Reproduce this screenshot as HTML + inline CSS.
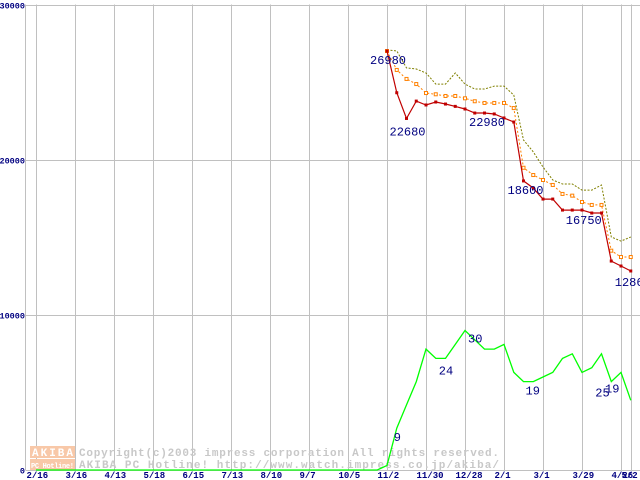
<!DOCTYPE html>
<html><head><meta charset="utf-8"><style>
body{margin:0;background:#fff}
svg{display:block}
text{font-family:"Liberation Mono","DejaVu Sans Mono",monospace}
</style></head><body>
<svg id="chart" width="640" height="480" viewBox="0 0 640 480" xmlns="http://www.w3.org/2000/svg">
<g id="grid"></g>
<g id="wm">
<rect x="30" y="446" width="45" height="12" fill="#f8c8a8"/>
<text x="32" y="456" font-size="11" font-weight="bold" fill="#fff" textLength="41">AKIBA</text>
<rect x="30" y="459" width="45" height="11" fill="#f8c8a8"/>
<text x="31" y="468" font-size="7" font-weight="bold" fill="#fff" textLength="43">PC Hotline!</text>
<text x="79" y="456" font-size="11" fill="#c8c8c8" font-weight="bold" textLength="420">Copyright(c)2003 impress corporation All rights reserved.</text>
<text x="79" y="468" font-size="11" fill="#c8c8c8" font-weight="bold" textLength="420">AKIBA PC Hotline!  http://www.watch.impress.co.jp/akiba/</text>
</g>
<g id="series"></g>
<g id="labels"></g>
</svg>
<script>
const tickWeeks=[0,4,8,12,16,20,24,28,32,36,40,44,48,52,56,60,61];
const tickLabels=["2/16","3/16","4/13","5/18","6/15","7/13","8/10","9/7","10/5","11/2","11/30","12/28","2/1","3/1","3/29","4/26","5/2"];
const yTicks=[0,10000,20000,30000];
const priceStart=36;
const maxPrice=[27100,27030,25940,25870,25610,24900,24900,25610,24900,24580,24580,24770,24770,24190,21290,20520,19550,18710,18450,18450,18060,18060,18390,15030,14770,15030];
const avgPrice=[27030,25810,25230,24900,24320,24240,24130,24130,23980,23790,23680,23680,23680,23350,19500,19030,18710,18390,17810,17700,17290,17100,17100,14150,13740,13740];
const minPrice=[27030,24340,22680,23800,23550,23740,23610,23460,23290,23030,23030,22970,22710,22450,18650,18190,17480,17480,16770,16770,16770,16580,16580,13480,13160,12840];
const shopCount=[0,0,0,0,0,0,0,0,0,0,0,0,0,0,0,0,0,0,0,0,0,0,0,0,0,0,0,0,0,0,0,0,0,0,0,0,1,9,14,19,26,24,24,27,30,28,26,26,27,21,19,19,20,21,24,25,21,22,25,19,21,15];
const priceLabels=[[0,"26980",-17,13],[2,"22680",-17,17],[12,"22980",-35,8],[14,"18600",-16,13],[21,"16750",-26,11],[25,"12869",-16,15]];
const countLabels=[[37,"9",-3,13],[41,"24",3,16],[44,"30",3,12],[50,"19",2,13],[59,"25",-16,15],[60,"19",-16,20]];

const X=w=>36+w*9.75;
const tickX=(w,i)=>tickLabels[i]==="5/2"?631:(tickLabels[i]==="4/26"?621:X(w));
const Y=v=>470-v*0.0155;
const YC=v=>470-v*4.65;
const NS="http://www.w3.org/2000/svg";
function mk(tag,attrs,parent){const e=document.createElementNS(NS,tag);for(const k in attrs)e.setAttribute(k,attrs[k]);parent.appendChild(e);return e;}
const grid=document.getElementById('grid');
mk('line',{x1:25.5,y1:4.5,x2:25.5,y2:470,stroke:'#c0c0c0'},grid);
tickWeeks.forEach((w,i)=>{
 const x=Math.round(tickX(w,i))+0.5;
 const l=mk('line',{x1:x,y1:4.5,x2:x,y2:470,stroke:'#c0c0c0'},grid);
 
 
 const t=mk('text',{x:x-10,y:478,'font-size':9,'font-weight':'bold',fill:'#000080'},grid);
 t.textContent=tickLabels[i];
 
 
});
yTicks.forEach(v=>{
 const y=Math.round(Y(v))+0.5;
 const l=mk('line',{x1:25.5,y1:y,x2:640,y2:y,stroke:'#c0c0c0'},grid);
 
 
 const t=mk('text',{x:25,y:y+3,'font-size':8.5,'font-weight':'bold',fill:'#000080','text-anchor':'end'},grid);
 t.textContent=String(v);
 
 
});
const ser=document.getElementById('series');
function pts(arr,start,f){return arr.map((v,i)=>X(start+i).toFixed(1)+','+f(v).toFixed(1)).join(' ');}
const g1=mk('polyline',{points:pts(shopCount,0,YC),fill:'none',stroke:'#00ff00','stroke-width':1.3},ser);


const o1=mk('polyline',{points:pts(maxPrice,priceStart,Y),fill:'none',stroke:'#808000','stroke-width':1,'stroke-dasharray':'2,1.5'},ser);


const a1=mk('polyline',{points:pts(avgPrice,priceStart,Y),fill:'none',stroke:'#ff8000','stroke-width':1,'stroke-dasharray':'2,2'},ser);


avgPrice.forEach((v,i)=>{
 const r=mk('rect',{x:X(priceStart+i)-1.5,y:Y(v)-1.5,width:3,height:3,fill:'#fff',stroke:'#ff8000','stroke-width':1},ser);
 
 
});
const r1=mk('polyline',{points:pts(minPrice,priceStart,Y),fill:'none',stroke:'#c00000','stroke-width':1.2},ser);


minPrice.forEach((v,i)=>{
 const r=mk('rect',{x:X(priceStart+i)-1.5,y:Y(v)-1.5,width:3,height:3,fill:'#c00000'},ser);
 
 
});
const lab=document.getElementById('labels');
priceLabels.forEach(([i,s,dx,dy])=>{
 const t=mk('text',{x:X(priceStart+i)+dx,y:Y(minPrice[i])+dy,'font-size':12,fill:'#000080'},lab);
 t.textContent=s;
 
 
});
countLabels.forEach(([i,s,dx,dy])=>{
 const t=mk('text',{x:X(i)+dx,y:YC(shopCount[i])+dy,'font-size':12,fill:'#000080'},lab);
 t.textContent=s;
 
 
});
</script>
</body></html>
